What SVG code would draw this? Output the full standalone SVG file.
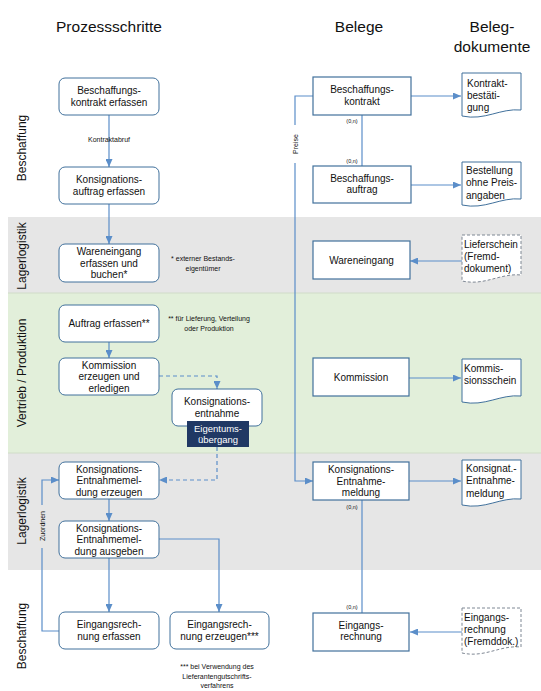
<svg xmlns="http://www.w3.org/2000/svg" width="541" height="691" viewBox="0 0 541 691">
<defs>
<style>
text{font-family:"Liberation Sans",Arial,sans-serif;fill:#111}
.t{font-size:10px;text-anchor:middle}
.d{font-size:10px}
.h{font-size:15.5px;text-anchor:middle}
.lane{font-size:12px;text-anchor:middle}
.s{font-size:7px;text-anchor:middle}
.xs{font-size:5.5px;text-anchor:middle}
.n{fill:#fff;stroke:#41719c;stroke-width:1}
.b{fill:#fff;stroke:#41719c;stroke-width:1.2}
.doc{fill:#fff;stroke:#41719c;stroke-width:1}
.fd{fill:#fff;stroke:#7f8894;stroke-width:1;stroke-dasharray:3,2}
.c{fill:none;stroke:#5b8ec9;stroke-width:1.2}
.cd{fill:none;stroke:#5b8ec9;stroke-width:1.2;stroke-dasharray:4,3}
</style>
<marker id="ar" viewBox="0 0 8 7" refX="8" refY="3.5" markerWidth="8" markerHeight="7" markerUnits="userSpaceOnUse" orient="auto">
<path d="M0,0 L8,3.5 L0,7 z" fill="#5b8ec9"/>
</marker>
</defs>

<g id="lanes">
<rect x="8" y="217" width="533" height="76" fill="#e6e6e6"/>
<rect x="8" y="293" width="533" height="160" fill="#e2efda"/>
<rect x="8" y="453" width="533" height="117" fill="#e6e6e6"/>
<line x1="8" y1="293" x2="541" y2="293" stroke="#d0dcc8" stroke-width="1"/>
<line x1="8" y1="453" x2="541" y2="453" stroke="#d0dcc8" stroke-width="1"/>
<text class="lane" transform="translate(26,148) rotate(-90)">Beschaffung</text>
<text class="lane" transform="translate(26,256) rotate(-90)">Lagerlogistik</text>
<text class="lane" transform="translate(26,373) rotate(-90)">Vertrieb / Produktion</text>
<text class="lane" transform="translate(26,511) rotate(-90)">Lagerlogistik</text>
<text class="lane" transform="translate(26,636) rotate(-90)">Beschaffung</text>
</g>

<g id="titles">
<text class="h" x="109" y="32">Prozessschritte</text>
<text class="h" x="359" y="32">Belege</text>
<text class="h" x="492" y="32">Beleg-</text>
<text class="h" x="492" y="52">dokumente</text>
</g>

<g id="connectors">
<path class="c" d="M109,115 V167" marker-end="url(#ar)"/>
<path class="c" d="M109,204 V244" marker-end="url(#ar)"/>
<path class="c" d="M109,342 V358" marker-end="url(#ar)"/>
<path class="cd" d="M159,376 H217 V389" marker-end="url(#ar)"/>
<path class="cd" d="M217,447 V480 H159" marker-end="url(#ar)"/>
<path class="c" d="M109,499 V521" marker-end="url(#ar)"/>
<path class="c" d="M109,558 V612" marker-end="url(#ar)"/>
<path class="c" d="M159,539 H219 V612" marker-end="url(#ar)"/>
<path class="c" d="M59,631 H42 V548"/>
<path class="c" d="M42,505 V480 H59" marker-end="url(#ar)"/>
<path class="c" d="M411,96 H461" marker-end="url(#ar)"/>
<path class="c" d="M362,115 V166"/>
<path class="c" d="M411,185 H461" marker-end="url(#ar)"/>
<path class="c" d="M462,261 H410" marker-end="url(#ar)"/>
<path class="c" d="M409,378 H461" marker-end="url(#ar)"/>
<path class="c" d="M313,96 H295 V125"/>
<path class="c" d="M295,163 V481 H313" marker-end="url(#ar)"/>
<path class="c" d="M409,481 H461" marker-end="url(#ar)"/>
<path class="c" d="M362,500 V613"/>
<path class="c" d="M462,632 H410" marker-end="url(#ar)"/>
<text class="s" x="109" y="141.5">Kontraktabruf</text>
<text class="s" transform="translate(44.5,526) rotate(-90)">Zuordnen</text>
<text class="s" transform="translate(297.5,144) rotate(-90)">Preise</text>
<text class="xs" x="352" y="123">(0,n)</text>
<text class="xs" x="352" y="163">(0,n)</text>
<text class="xs" x="352" y="509">(0,n)</text>
<text class="xs" x="352" y="609">(0,n)</text>
</g>

<g id="n1"><rect class="n" x="59" y="78" width="100" height="37" rx="6"/>
<text class="t" x="109" y="94">Beschaffungs-</text><text class="t" x="109" y="105.5">kontrakt erfassen</text></g>
<g id="n2"><rect class="n" x="59" y="167" width="100" height="37" rx="6"/>
<text class="t" x="109" y="183">Konsignations-</text><text class="t" x="109" y="194.5">auftrag erfassen</text></g>
<g id="n3"><rect class="n" x="59" y="244" width="100" height="38" rx="6"/>
<text class="t" x="109" y="255">Wareneingang</text><text class="t" x="109" y="266.5">erfassen und</text><text class="t" x="109" y="278">buchen*</text></g>
<g id="note1"><text class="s" x="203" y="261">* externer Bestands-</text><text class="s" x="203" y="271">eigentümer</text></g>
<g id="n4"><rect class="n" x="59" y="305" width="100" height="37" rx="6"/>
<text class="t" x="109" y="327">Auftrag erfassen**</text></g>
<g id="note2"><text class="s" x="209" y="321">** für Lieferung, Verteilung</text><text class="s" x="209" y="331">oder Produktion</text></g>
<g id="n5"><rect class="n" x="59" y="358" width="100" height="37" rx="6"/>
<text class="t" x="109" y="368.5">Kommission</text><text class="t" x="109" y="380">erzeugen und</text><text class="t" x="109" y="391.5">erledigen</text></g>
<g id="n6"><rect class="n" x="172" y="389" width="90" height="37" rx="6"/>
<text class="t" x="217" y="405">Konsignations-</text><text class="t" x="217" y="417">entnahme</text>
<rect x="187" y="421" width="62" height="26" fill="#203864"/>
<text class="t" x="218" y="431.5" style="fill:#fff;font-size:9.5px">Eigentums-</text><text class="t" x="218" y="443" style="fill:#fff;font-size:9.5px">übergang</text></g>
<g id="n7"><rect class="n" x="59" y="462" width="100" height="37" rx="6"/>
<text class="t" x="109" y="472.5">Konsignations-</text><text class="t" x="109" y="484">Entnahmemel-</text><text class="t" x="109" y="495.5">dung erzeugen</text></g>
<g id="n8"><rect class="n" x="59" y="521" width="100" height="37" rx="6"/>
<text class="t" x="109" y="531.5">Konsignations-</text><text class="t" x="109" y="543">Entnahmemel-</text><text class="t" x="109" y="554.5">dung ausgeben</text></g>
<g id="n9"><rect class="n" x="59" y="612" width="100" height="37" rx="6"/>
<text class="t" x="109" y="628">Eingangsrech-</text><text class="t" x="109" y="639.5">nung erfassen</text></g>
<g id="n10"><rect class="n" x="170" y="612" width="99" height="37" rx="6"/>
<text class="t" x="219.5" y="628">Eingangsrech-</text><text class="t" x="219.5" y="639.5">nung erzeugen***</text></g>
<g id="note3"><text class="s" x="217" y="669">*** bei Verwendung des</text><text class="s" x="217" y="679">Lieferantengutschrifts-</text><text class="s" x="217" y="688">verfahrens</text></g>

<g id="b1"><rect class="b" x="313" y="77" width="98" height="38"/>
<text class="t" x="362" y="93">Beschaffungs-</text><text class="t" x="362" y="104.5">kontrakt</text></g>
<g id="b2"><rect class="b" x="313" y="166" width="98" height="37"/>
<text class="t" x="362" y="181.5">Beschaffungs-</text><text class="t" x="362" y="193">auftrag</text></g>
<g id="b3"><rect class="b" x="313" y="241" width="97" height="38"/>
<text class="t" x="361.5" y="263.5">Wareneingang</text></g>
<g id="b4"><rect class="b" x="313" y="358" width="96" height="38"/>
<text class="t" x="361" y="380.5">Kommission</text></g>
<g id="b5"><rect class="b" x="313" y="462" width="96" height="38"/>
<text class="t" x="361" y="473">Konsignations-</text><text class="t" x="361" y="484.5">Entnahme-</text><text class="t" x="361" y="496">meldung</text></g>
<g id="b6"><rect class="b" x="313" y="613" width="96" height="38"/>
<text class="t" x="361" y="628.5">Eingangs-</text><text class="t" x="361" y="640">rechnung</text></g>

<g id="d1"><path class="doc" d="M462,73 H521 V110 C500,108 485,121 462,116 Z"/>
<text class="d" x="467" y="86.5">Kontrakt-</text><text class="d" x="467" y="98.5">bestäti-</text><text class="d" x="467" y="110.5">gung</text></g>
<g id="d2"><path class="doc" d="M462,162 H521 V199 C500,197 485,210 462,205 Z"/>
<text class="d" x="466" y="173.5">Bestellung</text><text class="d" x="466" y="186">ohne Preis-</text><text class="d" x="466" y="198.5">angaben</text></g>
<g id="d3"><path class="fd" d="M462,235 H521 V275 C500,273 485,286 462,281 Z"/>
<text class="d" x="464" y="247.5">Lieferschein</text><text class="d" x="464" y="259.5">(Fremd-</text><text class="d" x="464" y="271.5">dokument)</text></g>
<g id="d4"><path class="doc" d="M462,359 H521 V396 C500,394 485,407 462,402 Z"/>
<text class="d" x="464" y="371.5">Kommis-</text><text class="d" x="464" y="383.5">sionsschein</text></g>
<g id="d5"><path class="doc" d="M462,460 H521 V499 C500,497 485,510 462,505 Z"/>
<text class="d" x="466" y="471.5">Konsignat.-</text><text class="d" x="466" y="484">Entnahme-</text><text class="d" x="466" y="496.5">meldung</text></g>
<g id="d6"><path class="fd" d="M462,608 H521 V647 C500,645 485,658 462,653 Z"/>
<text class="d" x="464" y="620.5">Eingangs-</text><text class="d" x="464" y="632.5">rechnung</text><text class="d" x="464" y="645">(Fremddok.)</text></g>
</svg>
